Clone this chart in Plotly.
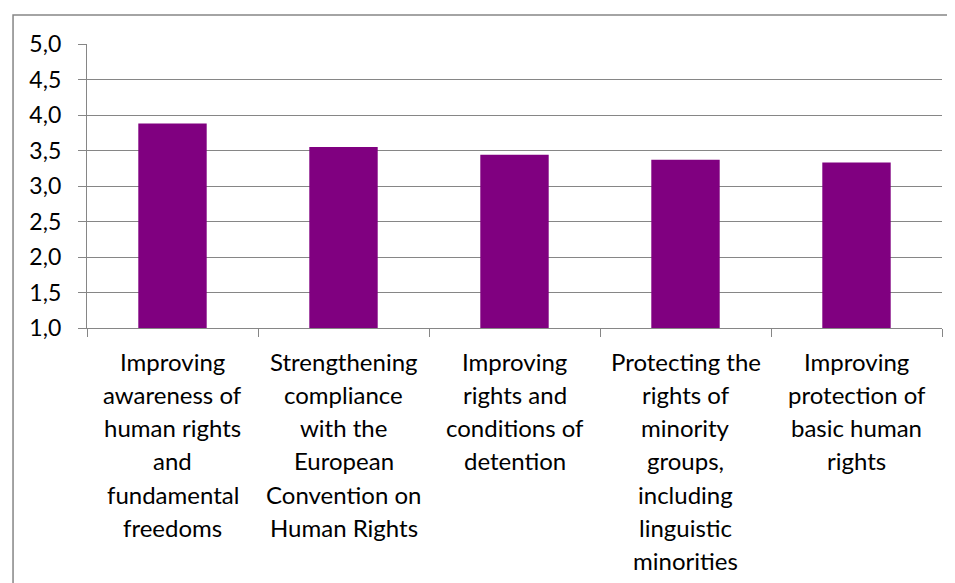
import plotly.graph_objects as go

categories = [
    "Improving<br>awareness of<br>human rights<br>and<br>fundamental<br>freedoms",
    "Strengthening<br>compliance<br>with the<br>European<br>Convention on<br>Human Rights",
    "Improving<br>rights and<br>conditions of<br>detention",
    "Protecting the<br>rights of<br>minority<br>groups,<br>including<br>linguistic<br>minorities",
    "Improving<br>protection of<br>basic human<br>rights",
]
values = [3.88, 3.55, 3.44, 3.37, 3.33]
y_ticks = [1.0, 1.5, 2.0, 2.5, 3.0, 3.5, 4.0, 4.5, 5.0]
y_tick_labels = ["1,0", "1,5", "2,0", "2,5", "3,0", "3,5", "4,0", "4,5", "5,0"]

FONT = "Lato, Calibri, sans-serif"
GRID = "#868686"
AXIS_MIN = 1.0

fig = go.Figure()
# bars start at the axis minimum, so each bar's length is value - 1.0
fig.add_trace(
    go.Bar(
        x=categories,
        y=[v - AXIS_MIN for v in values],
        base=AXIS_MIN,
        marker=dict(color="#800080", line=dict(width=0)),
        width=0.4,
    )
)

# category labels, one annotation per line so the line spacing matches
for cat in categories:
    for k, line in enumerate(cat.split("<br>")):
        fig.add_annotation(
            x=cat, y=0, xref="x", yref="paper",
            text=line, showarrow=False,
            yanchor="middle", xanchor="center",
            yshift=-(33 + 33.3 * k),
            font=dict(family=FONT, size=24, color="#000000"),
        )

# outer chart border (extends past right/bottom of the picture)
fig.add_shape(
    type="rect", xref="paper", yref="paper",
    x0=-0.0865, x1=1.1, y0=-1.2, y1=1.102,
    line=dict(color=GRID, width=1.5),
)

# page body has an 8px margin, so the figure is offset by 8px
fig.update_layout(
    width=947,
    height=575,
    margin=dict(l=79, r=13, t=36, b=255),
    paper_bgcolor="white",
    plot_bgcolor="white",
    showlegend=False,
    font=dict(family=FONT, size=23, color="#000000"),
    xaxis=dict(
        showticklabels=False,
        ticks="outside",
        tickson="boundaries",
        ticklen=8,
        tickcolor=GRID,
        showline=True,
        linecolor=GRID,
        linewidth=1.3,
        showgrid=False,
    ),
    yaxis=dict(
        range=[1.0, 5.0],
        tickvals=y_ticks,
        ticktext=y_tick_labels,
        ticks="outside",
        ticklen=8,
        tickcolor=GRID,
        showline=True,
        linecolor=GRID,
        linewidth=1.3,
        showgrid=True,
        gridcolor=GRID,
        gridwidth=1.3,
        zeroline=False,
        tickfont=dict(family=FONT, size=23),
        ticklabelstandoff=12,
    ),
)

fig.write_html("out.html")
